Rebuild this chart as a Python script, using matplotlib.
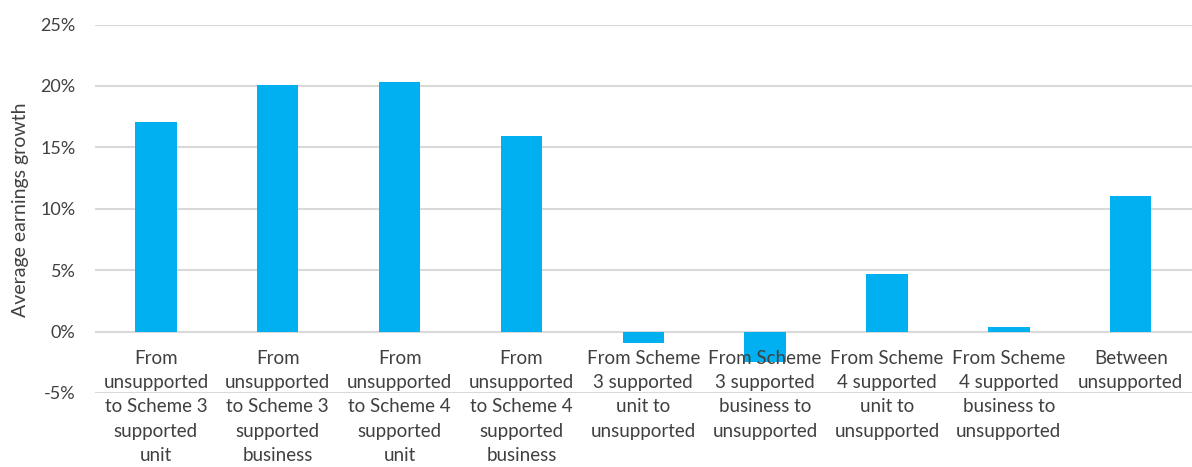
import matplotlib.pyplot as plt

plt.rcParams['font.family'] = ['Lato', 'DejaVu Sans']

categories = [
    "From\nunsupported\nto Scheme 3\nsupported\nunit",
    "From\nunsupported\nto Scheme 3\nsupported\nbusiness",
    "From\nunsupported\nto Scheme 4\nsupported\nunit",
    "From\nunsupported\nto Scheme 4\nsupported\nbusiness",
    "From Scheme\n3 supported\nunit to\nunsupported",
    "From Scheme\n3 supported\nbusiness to\nunsupported",
    "From Scheme\n4 supported\nunit to\nunsupported",
    "From Scheme\n4 supported\nbusiness to\nunsupported",
    "Between\nunsupported",
]
growth = [17.1, 20.1, 20.3, 15.9, -0.9, -2.5, 4.7, 0.4, 11.0]
yticks = [-5, 0, 5, 10, 15, 20, 25]

fig = plt.figure(figsize=(11.92, 4.67), dpi=100)
ax = fig.add_axes([0.0797, 0.1585, 0.92, 0.789])

x = list(range(len(categories)))
ax.bar(x, growth, width=0.34, color='#00B0F0', zorder=3)

ax.set_ylim(-5, 25)
ax.set_xlim(-0.5, len(categories) - 0.5)
ax.set_yticks(yticks)
ax.set_yticklabels([f"{v}%" for v in yticks])
ax.set_xticks([])

# category labels hang just under the zero line
for i, lab in zip(x, categories):
    ax.annotate(lab, xy=(i, 0), xytext=(0, -13), textcoords='offset points',
                ha='center', va='top', fontsize=13.5, linespacing=1.53,
                color='#404040', annotation_clip=False, zorder=4)

ax.grid(axis='y', color='#d9d9d9', linewidth=1.5, zorder=0)
for side in ['top', 'right', 'left', 'bottom']:
    ax.spines[side].set_visible(False)
ax.tick_params(axis='both', length=0, labelsize=13, colors='#404040')
ax.tick_params(axis='y', pad=14)

fig.text(0.0168, 0.55, "Average earnings growth", rotation=90,
         ha='center', va='center', fontsize=14, color='#404040')

fig.savefig("out.png", dpi=100)
